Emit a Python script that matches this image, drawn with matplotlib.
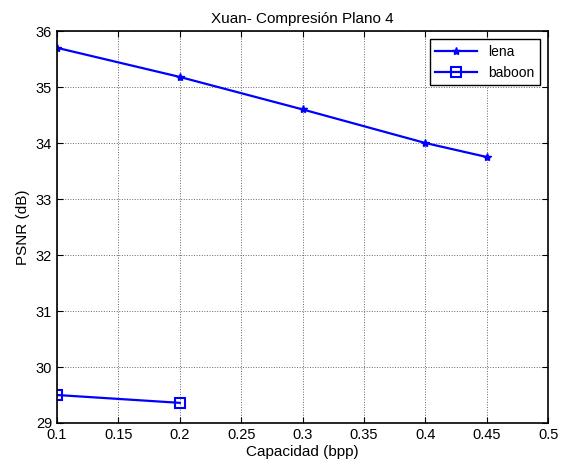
import matplotlib
matplotlib.use("Agg")
import matplotlib.pyplot as plt

plt.rcParams['font.family'] = ['Liberation Sans', 'DejaVu Sans']

# datos
cap_lena = [0.1, 0.2, 0.3, 0.4, 0.45]
psnr_lena = [35.70, 35.18, 34.60, 34.00, 33.75]
cap_baboon = [0.1, 0.2]
psnr_baboon = [29.50, 29.36]

fig = plt.figure(figsize=(5.64, 4.70), dpi=100)
ax = fig.add_axes([0.101, 0.100, 0.871, 0.834])

ax.plot(cap_lena, psnr_lena, color='#0000ff', lw=1.6, marker='*', ms=6, label='lena')
ax.plot(cap_baboon, psnr_baboon, color='#0000ff', lw=1.6, marker='s', ms=7,
        mfc='none', mew=1.5, label='baboon')

ax.set_xlim(0.1, 0.5)
ax.set_ylim(29, 36)
ax.set_xticks([0.1, 0.15, 0.2, 0.25, 0.3, 0.35, 0.4, 0.45, 0.5])
ax.set_xticklabels(['0.1', '0.15', '0.2', '0.25', '0.3', '0.35', '0.4', '0.45', '0.5'])
ax.set_yticks(range(29, 37))

ax.grid(True, color='#666666', ls=':', lw=0.7)
ax.tick_params(direction='in', top=True, right=True, labelsize=10.5, length=4)
for s in ax.spines.values():
    s.set_linewidth(1.2)

ax.set_xlabel('Capacidad (bpp)', fontsize=11, labelpad=2)
ax.set_ylabel('PSNR (dB)', fontsize=11)
ax.set_title('Xuan- Compresión Plano 4', fontsize=11, pad=6)

leg = ax.legend(loc='upper right', fancybox=False, framealpha=1, edgecolor='black',
                fontsize=10, handlelength=3, borderaxespad=0.6)
leg.get_frame().set_linewidth(1.0)

fig.savefig('out.png', dpi=100)
